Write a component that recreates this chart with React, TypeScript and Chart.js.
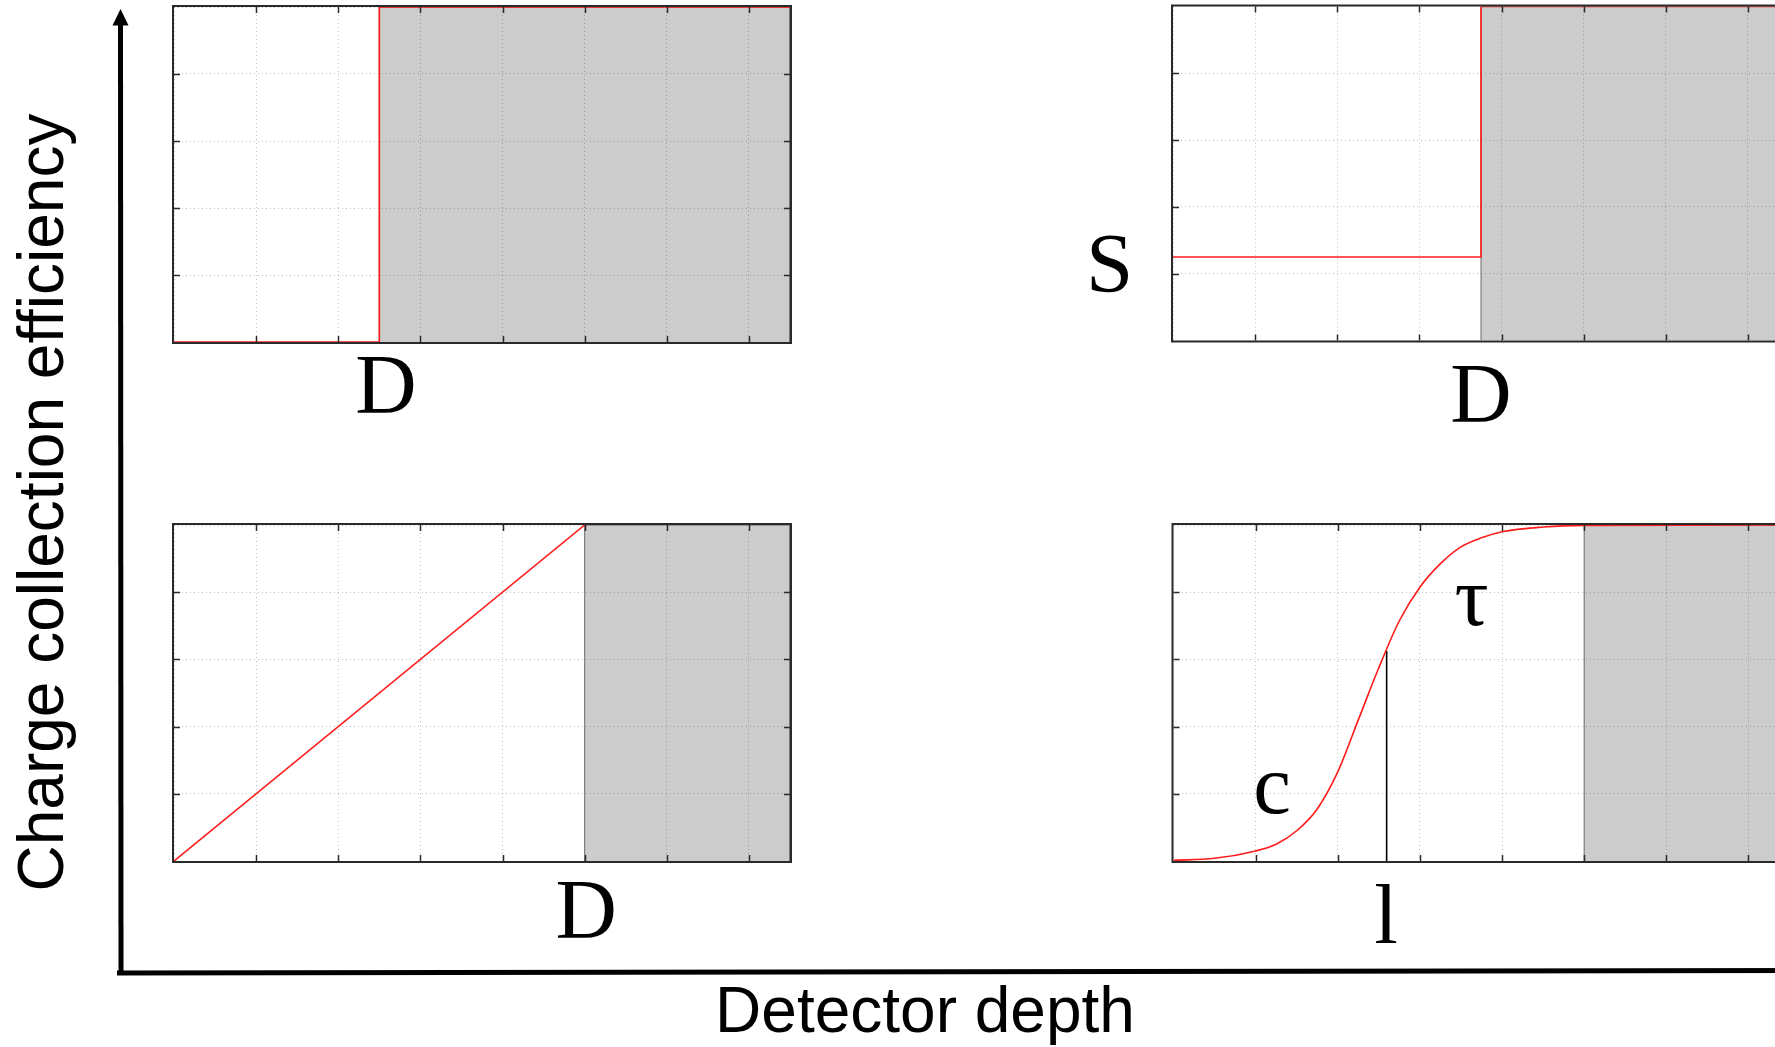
import React, { useEffect, useRef } from "react";
import { Chart, registerables } from "chart.js";

Chart.register(...registerables);

// ---------- shared axis ranges / tick steps ----------
const xRange = [0, 7.5];
const yRange = [0, 1];
const xStep = 1;
const yStep = 0.2;

// ---------- outer axis titles ----------
const xTitle = "Detector depth";
const yTitle = "Charge collection efficiency";

// ---------- panel A (top-left): full depletion step at D ----------
const aCurveX = [0, 2.5, 2.5, 7.5];
const aCurveY = [0, 0, 1, 1];
const aShadeX = [2.5, 2.5, 7.5, 7.5];
const aShadeY = [0, 1, 1, 0];
const aLabels = ["D"];
const aLabelX = [2.58];
const aLabelY = [-0.212];

// ---------- panel B (top-right): surface level S then step at D ----------
const bCurveX = [0, 3.75, 3.75, 7.5];
const bCurveY = [0.25, 0.25, 1, 1];
const bShadeX = [3.75, 3.75, 7.5, 7.5];
const bShadeY = [0, 1, 1, 0];
const bLabels = ["S", "D"];
const bLabelX = [-0.77, 3.75];
const bLabelY = [0.145, -0.244];

// ---------- panel C (bottom-left): linear rise to D ----------
const cCurveX = [0, 5];
const cCurveY = [0, 1];
const cShadeX = [5, 5, 7.5, 7.5];
const cShadeY = [0, 1, 1, 0];
const cLabels = ["D"];
const cLabelX = [5.02];
const cLabelY = [-0.229];

// ---------- panel D (bottom-right): sigmoid with c, l, tau ----------
const dCurveX = [0, 0.5, 1, 1.25, 1.5, 1.75, 2, 2.25, 2.5, 2.75, 3, 3.25, 3.5, 3.75, 4, 4.5, 5, 7.5];
const dCurveY = [0.002, 0.008, 0.03, 0.05, 0.09, 0.155, 0.265, 0.42, 0.575, 0.715, 0.815, 0.885, 0.935, 0.962, 0.98, 0.994, 0.999, 1];
const dMarkX = [2.595, 2.595];
const dMarkY = [0, 0.625];
const dShadeX = [5, 5, 7.5, 7.5];
const dShadeY = [0, 1, 1, 0];
const dLabels = ["c", "\u03c4", "l"];
const dLabelX = [1.2, 3.63, 2.587];
const dLabelY = [0.143, 0.702, -0.244];

// ---------- layout (pixel geometry of each panel's plot area) ----------
const CANVAS_W = 1800;
const CANVAS_H = 1047;

const panels = [
  { key: "a", box: { left: 174, top: 7, right: 790, bottom: 342 }, curveX: aCurveX, curveY: aCurveY, shadeX: aShadeX, shadeY: aShadeY, labels: aLabels, labelX: aLabelX, labelY: aLabelY, smooth: false },
  { key: "b", box: { left: 1173, top: 6.5, right: 1789, bottom: 340.5 }, curveX: bCurveX, curveY: bCurveY, shadeX: bShadeX, shadeY: bShadeY, labels: bLabels, labelX: bLabelX, labelY: bLabelY, smooth: false },
  { key: "c", box: { left: 174, top: 525, right: 790, bottom: 861 }, curveX: cCurveX, curveY: cCurveY, shadeX: cShadeX, shadeY: cShadeY, labels: cLabels, labelX: cLabelX, labelY: cLabelY, smooth: false },
  { key: "d", box: { left: 1173.5, top: 525, right: 1789.5, bottom: 861 }, curveX: dCurveX, curveY: dCurveY, shadeX: dShadeX, shadeY: dShadeY, markX: dMarkX, markY: dMarkY, labels: dLabels, labelX: dLabelX, labelY: dLabelY, smooth: true },
];

const SANS = "'Liberation Sans', Arial, Helvetica, sans-serif";
const SERIF = "'Liberation Serif', 'Times New Roman', Times, serif";

const toPts = (xs: number[], ys: number[]) => xs.map((x, i) => ({ x, y: ys[i] }));

function makePanelConfig(p: any): any {
  const datasets: any[] = [
    {
      data: toPts(p.shadeX, p.shadeY),
      borderColor: "#6a6a6a",
      borderWidth: 1,
      backgroundColor: "rgba(0,0,0,0.2)",
      fill: "origin",
      pointRadius: 0,
      tension: 0,
      order: 3,
    },
  ];
  if (p.markX) {
    datasets.push({
      data: toPts(p.markX, p.markY),
      borderColor: "#000000",
      borderWidth: 1.6,
      fill: false,
      pointRadius: 0,
      tension: 0,
      order: 2,
    });
  }
  datasets.push({
    data: toPts(p.curveX, p.curveY),
    borderColor: "#ff1a1a",
    borderWidth: 1.6,
    fill: false,
    pointRadius: 0,
    tension: 0,
    cubicInterpolationMode: p.smooth ? "monotone" : "default",
    order: 1,
  });

  const gridOpts = { color: "rgba(0,0,0,0.24)", lineWidth: 1, drawTicks: false };
  const borderOpts = { display: false, dash: [1, 3] };

  const boxPlugin = {
    id: "boxAndLabels" + p.key,
    afterDatasetsDraw(chart: any) {
      const { ctx, chartArea: a, scales } = chart;
      const xs = scales.x;
      const ys = scales.y;
      ctx.save();
      // inward tick marks on all four sides
      ctx.strokeStyle = "#2a2a2a";
      ctx.lineWidth = 1.5;
      const tl = 6;
      ctx.beginPath();
      xs.ticks.forEach((t: any) => {
        if (t.value <= xs.min + 1e-9 || t.value >= xs.max - 1e-9) return;
        const px = Math.round(xs.getPixelForValue(t.value)) + 0.5;
        ctx.moveTo(px, a.bottom);
        ctx.lineTo(px, a.bottom - tl);
        ctx.moveTo(px, a.top);
        ctx.lineTo(px, a.top + tl);
      });
      ys.ticks.forEach((t: any) => {
        if (t.value <= ys.min + 1e-9 || t.value >= ys.max - 1e-9) return;
        const py = Math.round(ys.getPixelForValue(t.value)) + 0.5;
        ctx.moveTo(a.left, py);
        ctx.lineTo(a.left + tl, py);
        ctx.moveTo(a.right, py);
        ctx.lineTo(a.right - tl, py);
      });
      ctx.stroke();
      // box
      ctx.lineWidth = 2;
      ctx.strokeRect(a.left - 1, a.top - 1, a.right - a.left + 2, a.bottom - a.top + 2);
      // annotations
      ctx.fillStyle = "#000";
      ctx.font = "85px " + SERIF;
      ctx.textAlign = "center";
      ctx.textBaseline = "alphabetic";
      p.labels.forEach((txt: string, i: number) => {
        ctx.fillText(txt, xs.getPixelForValue(p.labelX[i]), ys.getPixelForValue(p.labelY[i]));
      });
      ctx.restore();
    },
  };

  return {
    type: "line",
    data: { datasets },
    options: {
      animation: false,
      responsive: false,
      events: [],
      layout: {
        autoPadding: false,
        padding: {
          left: p.box.left,
          top: p.box.top,
          right: CANVAS_W - p.box.right,
          bottom: CANVAS_H - p.box.bottom,
        },
      },
      plugins: { legend: { display: false }, tooltip: { enabled: false }, title: { display: false } },
      scales: {
        x: {
          type: "linear",
          min: xRange[0],
          max: xRange[1],
          ticks: { display: false, stepSize: xStep },
          grid: gridOpts,
          border: borderOpts,
        },
        y: {
          type: "linear",
          min: yRange[0],
          max: yRange[1],
          ticks: { display: false, stepSize: yStep },
          grid: gridOpts,
          border: borderOpts,
        },
      },
    },
    plugins: [boxPlugin],
  };
}

function makeOuterConfig(): any {
  const axesPlugin = {
    id: "outerAxes",
    afterDraw(chart: any) {
      const { ctx, chartArea: a } = chart;
      ctx.save();
      ctx.strokeStyle = "#000";
      ctx.fillStyle = "#000";
      ctx.lineWidth = 5;
      ctx.lineCap = "butt";
      // horizontal axis line
      ctx.beginPath();
      ctx.moveTo(a.left - 3, a.bottom + 2);
      ctx.lineTo(chart.width, a.bottom - 0.5);
      ctx.stroke();
      // vertical axis line
      ctx.beginPath();
      ctx.moveTo(a.left + 1, a.bottom + 4);
      ctx.lineTo(a.left + 0.5, 22);
      ctx.stroke();
      // arrow head
      ctx.beginPath();
      ctx.moveTo(a.left + 0.5, 9);
      ctx.lineTo(a.left - 7.5, 25.5);
      ctx.lineTo(a.left + 8.5, 25.5);
      ctx.closePath();
      ctx.fill();
      ctx.restore();
    },
  };
  const titleFont = { family: SANS, size: 64, lineHeight: 1, weight: "normal" as const };
  return {
    type: "line",
    data: { datasets: [] },
    options: {
      animation: false,
      responsive: false,
      events: [],
      layout: { autoPadding: false, padding: { left: 0, top: 34, right: 70, bottom: 0 } },
      plugins: { legend: { display: false }, tooltip: { enabled: false } },
      scales: {
        x: {
          type: "linear",
          min: 0,
          max: 1,
          ticks: { display: false },
          grid: { display: false, drawTicks: false },
          border: { display: false },
          title: { display: true, text: xTitle, color: "#000", font: titleFont, padding: { top: 11, bottom: 1 } },
        },
        y: {
          type: "linear",
          min: 0,
          max: 1,
          ticks: { display: false },
          grid: { display: false, drawTicks: false },
          border: { display: false },
          title: { display: true, text: yTitle, color: "#000", font: titleFont, padding: { top: 13, bottom: 43 } },
        },
      },
    },
    plugins: [axesPlugin],
  };
}

function ChartCanvas({ make }: { make: () => any }) {
  const ref = useRef<HTMLCanvasElement | null>(null);
  useEffect(() => {
    if (!ref.current) return;
    const chart = new Chart(ref.current, make());
    return () => chart.destroy();
  }, []);
  return (
    <canvas
      ref={ref}
      width={CANVAS_W}
      height={CANVAS_H}
      style={{ position: "absolute", left: 0, top: 0, width: CANVAS_W, height: CANVAS_H }}
    />
  );
}

export default function App() {
  return (
    <div
      style={{
        position: "fixed",
        left: 0,
        top: 0,
        width: 1775,
        height: 1047,
        overflow: "hidden",
        background: "#ffffff",
      }}
    >
      <ChartCanvas make={makeOuterConfig} />
      {panels.map((p) => (
        <ChartCanvas key={p.key} make={() => makePanelConfig(p)} />
      ))}
    </div>
  );
}
